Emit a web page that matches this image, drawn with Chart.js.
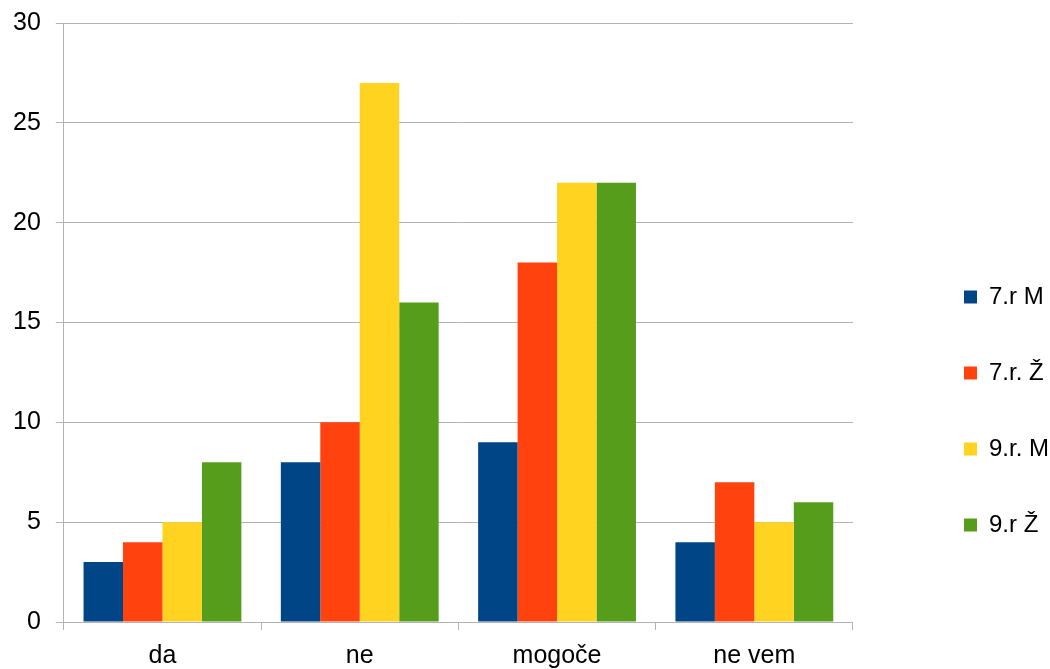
<!DOCTYPE html>
<html>
<head>
<meta charset="utf-8">
<script src="https://cdn.jsdelivr.net/npm/chart.js@4/dist/chart.umd.min.js"></script>
<style>
  body { margin: 0; background: #fff; }
  #wrap { width: 1050px; height: 669px; }
</style>
</head>
<body>
<div id="wrap"><canvas id="odgovori" width="1050" height="669"></canvas></div>
<script>
/*
DATA
*/
const categories = ['da', 'ne', 'mogoče', 'ne vem'];
const seriesNames = ['7.r M', '7.r. Ž', '9.r. M', '9.r Ž'];
const boys7 = [3, 8, 9, 4];
const girls7 = [4, 10, 18, 7];
const boys9 = [5, 27, 22, 5];
const girls9 = [8, 16, 22, 6];
const seriesColors = ['#004586', '#ff420e', '#ffd320', '#579d1c'];

const gridGray = '#b3b3b3';
const font = { family: "'Liberation Sans', Arial, sans-serif", size: 25 };

// legend sits lower and further right than Chart.js puts it
const legendShift = {
  id: 'legendShift',
  afterLayout(chart) {
    const lg = chart.legend;
    const pad = lg.options.labels.padding;
    const dx = 964 - pad - lg.left;
    const dy = 285 - pad - lg.top;
    lg.left += dx; lg.right += dx;
    lg.top += dy; lg.bottom += dy;
  }
};

const odgovoriData = {
  labels: categories,
  datasets: [boys7, girls7, boys9, girls9].map((values, i) => ({
    label: seriesNames[i],
    data: values,
    backgroundColor: seriesColors[i],
    borderWidth: 0
  }))
};

const odgovoriConfig = {
  type: 'bar',
  data: odgovoriData,
  options: {
    responsive: false,
    animation: false,
    datasets: {
      bar: { categoryPercentage: 0.8, barPercentage: 1 }
    },
    layout: { padding: { left: -2, top: 23, right: 50, bottom: -13 } },
    plugins: {
      tooltip: { enabled: false },
      legend: {
        position: 'right',
        align: 'start',
        labels: {
          boxWidth: 13,
          boxHeight: 13,
          padding: 52,
          color: '#000',
          font: { family: font.family, size: 24 }
        }
      }
    },
    scales: {
      x: {
        offset: true,
        grid: {
          offset: true,
          color: (c) => (c.index === categories.length ? gridGray : 'rgba(0,0,0,0)'),
          tickColor: gridGray,
          tickLength: 8
        },
        border: { color: gridGray },
        ticks: { color: '#000', font: font, padding: 11 }
      },
      y: {
        min: 0,
        max: 30,
        grid: { color: gridGray, tickColor: gridGray, tickLength: 8 },
        border: { color: gridGray },
        ticks: { stepSize: 5, color: '#000', font: font, padding: 15 },
        afterFit: (scale) => { scale.paddingTop = 0; }
      }
    }
  },
  plugins: [legendShift]
};

const odgovoriChart = new Chart(
  document.getElementById('odgovori'),
  odgovoriConfig
);
</script>
</body>
</html>
